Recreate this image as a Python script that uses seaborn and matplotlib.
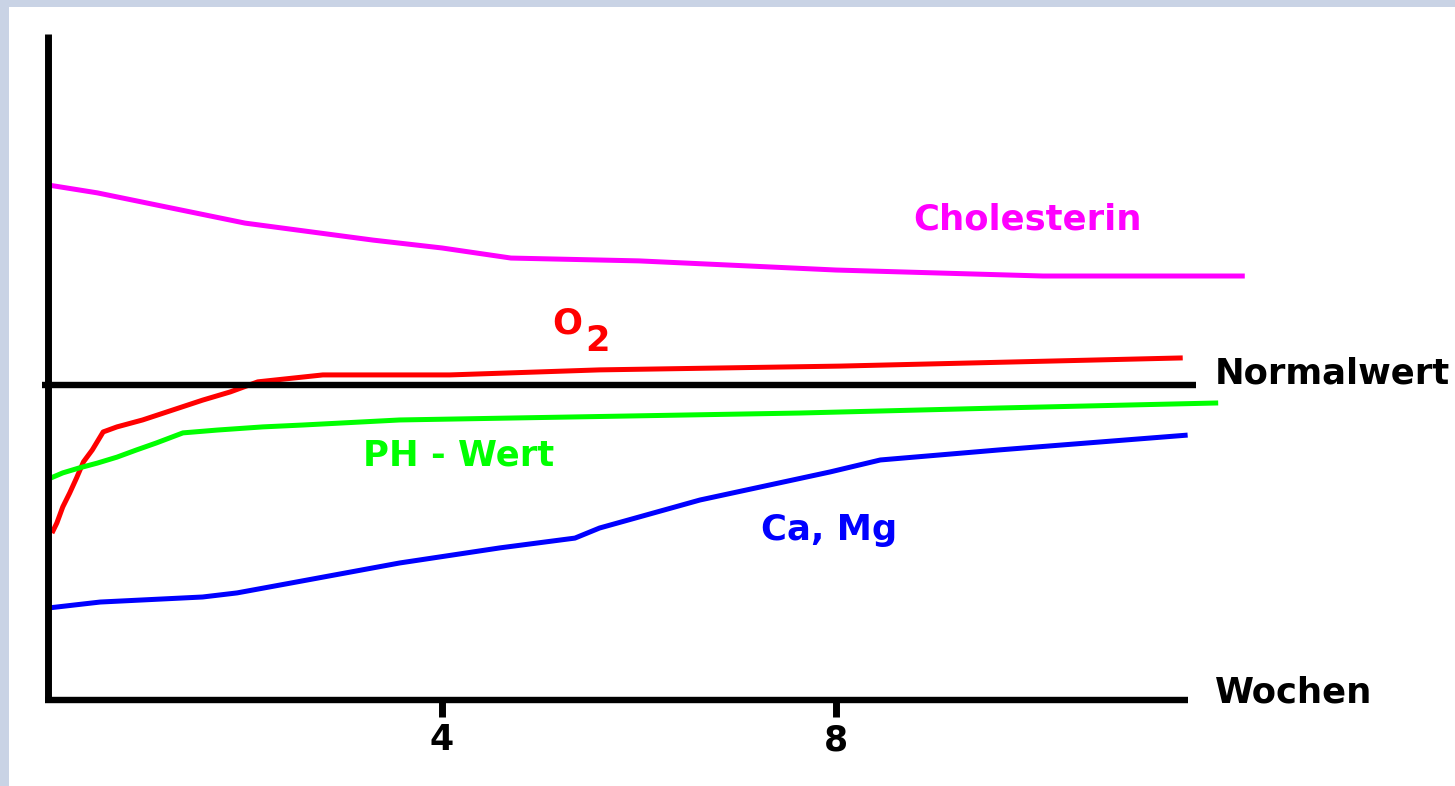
import numpy as np
import pandas as pd
import matplotlib
matplotlib.use('Agg')
import matplotlib.pyplot as plt
import seaborn as sns

# values: x in Wochen, y in % of Normalwert (Normalwert = 100)
chol_x = [0, 0.5, 2.0, 3.3, 4.0, 4.7, 6.0, 8.0, 10.1, 12.15]
chol_y = [163.5, 161, 151.4, 146, 143.5, 140.3, 139.4, 136.5, 134.6, 134.6]

o2_x = [0.04, 0.09, 0.15, 0.22, 0.29, 0.36, 0.45, 0.56, 0.70, 0.96, 1.27, 1.57,
        1.85, 2.13, 2.79, 4.08, 5.60, 8.04, 11.52]
o2_y = [53, 56.2, 61.3, 65.7, 70.5, 75.6, 79.4, 85.1, 86.7, 88.9, 92.1, 95.2,
        97.8, 101, 103.2, 103.2, 104.8, 106, 108.6]

ph_x = [0.03, 0.15, 0.32, 0.50, 0.70, 0.90, 1.10, 1.37, 1.72, 2.18, 2.59, 3.57,
        7.63, 9.66, 11.88]
ph_y = [70.5, 72.1, 73.7, 75.2, 77.1, 79.4, 81.6, 84.8, 85.7, 86.7, 87.3, 88.9,
        91.1, 92.7, 94.3]

camg_x = [0, 0.53, 1.57, 1.92, 2.46, 3.57, 4.59, 5.35, 5.60, 6.62, 7.94, 8.45,
          9.66, 11.57]
camg_y = [29.2, 31.1, 32.7, 34, 37.1, 43.5, 48.3, 51.4, 54.6, 63.5, 72.4, 76.2,
          79.4, 84.1]

normalwert = 100
week_ticks = [4, 8]
x_end = 11.57
y_top = 211.4

series = [
    ('Cholesterin', chol_x, chol_y, '#ff00ff'),
    ('O2', o2_x, o2_y, '#ff0000'),
    ('PH - Wert', ph_x, ph_y, '#00ff00'),
    ('Ca, Mg', camg_x, camg_y, '#0000ff'),
]

sns.set_style('white')
plt.rcParams['font.family'] = ['DejaVu Sans']

W, H = 1455, 786
fig = plt.figure(figsize=(W / 100, H / 100), dpi=100)
fig.patch.set_facecolor('#c9d3e5')
ax = fig.add_axes([9 / W, 0, 1 - 9 / W, 1 - 7 / H])
ax.set_facecolor('white')

# pixel mapping: x = (px - 48) / 98.5 ; y = (700 - py) / 3.15
ax.set_xlim((9 - 48) / 98.5, (W - 48) / 98.5)
ax.set_ylim((700 - H) / 3.15, (700 - 7) / 3.15)

for name, xs, ys, col in series:
    df = pd.DataFrame({'Wochen': xs, 'Wert': ys})
    sns.lineplot(data=df, x='Wochen', y='Wert', color=col, lw=3.6,
                 sort=False, estimator=None, ax=ax, solid_capstyle='butt')

# hide the matplotlib frame, keep the white background
sns.despine(ax=ax, left=True, bottom=True)
ax.set_xticks([])
ax.set_yticks([])
ax.set_xlabel('')
ax.set_ylabel('')

# axes and normal line
ax.plot([0, 0], [0, y_top], color='black', lw=5, solid_capstyle='butt')
ax.plot([-0.03, x_end], [0, 0], color='black', lw=4.6, solid_capstyle='butt')
ax.plot([-0.06, 11.65], [normalwert, normalwert], color='black', lw=4.6,
        solid_capstyle='butt')
for t in week_ticks:
    ax.plot([t, t], [0, -5.4], color='black', lw=5, solid_capstyle='butt')
    ax.text(t, -15.9, str(t), ha='center', va='baseline', fontsize=25,
            fontweight='bold', color='black')

fs = 25.5
ax.text(8.78, 149.5, 'Cholesterin', color='#ff00ff', fontsize=fs,
        fontweight='bold', va='baseline')
ax.text(5.12, 116.5, 'O', color='#ff0000', fontsize=fs, fontweight='bold',
        va='baseline')
ax.text(5.45, 110.8, '2', color='#ff0000', fontsize=fs, fontweight='bold',
        va='baseline')
ax.text(3.2, 74.3, 'PH - Wert', color='#00ff00', fontsize=fs,
        fontweight='bold', va='baseline')
ax.text(7.24, 50.8, 'Ca, Mg', color='#0000ff', fontsize=fs,
        fontweight='bold', va='baseline')
ax.text(11.85, 100.6, 'Normalwert', color='black', fontsize=fs,
        fontweight='bold', va='baseline')
ax.text(11.85, -0.95, 'Wochen', color='black', fontsize=fs,
        fontweight='bold', va='baseline')

fig.savefig('out.png', dpi=100, facecolor=fig.get_facecolor())
